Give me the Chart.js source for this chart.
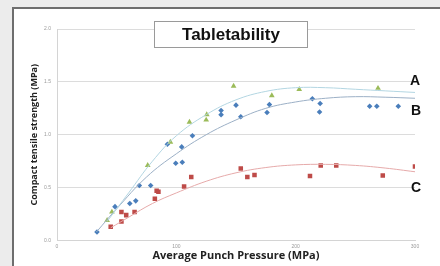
<!DOCTYPE html>
<html>
<head>
<meta charset="utf-8">
<script src="https://cdn.jsdelivr.net/npm/chart.js@4/dist/chart.umd.min.js"></script>
<style>
  html, body { margin: 0; padding: 0; background: #ebebeb; }
  #wrap { width: 440px; height: 266px; position: relative; }
</style>
</head>
<body>
<div id="wrap"><canvas id="chart" width="440" height="266"></canvas></div>
<script>
// ── Data ──
const pressureA = [42, 46, 76, 95, 111, 125, 125.5, 148, 180, 203, 269];
const strengthA = [0.19, 0.27, 0.71, 0.93, 1.12, 1.14, 1.19, 1.46, 1.37, 1.43, 1.44];

const pressureB = [33.5, 48.6, 61, 66, 69, 78.5, 92.5, 99.5, 104.5, 105, 113.5, 137.5, 137.5, 150, 154, 176, 178, 214, 220.5, 220, 262, 268, 286];
const strengthB = [0.08, 0.32, 0.35, 0.375, 0.52, 0.52, 0.91, 0.73, 0.885, 0.74, 0.99, 1.23, 1.19, 1.28, 1.17, 1.21, 1.285, 1.34, 1.295, 1.215, 1.27, 1.27, 1.27];

const pressureC = [45, 54, 54, 58, 65, 82, 83.5, 85, 106.5, 112.5, 154, 159.5, 165.5, 212, 221, 234, 273, 300];
const strengthC = [0.13, 0.18, 0.27, 0.24, 0.27, 0.395, 0.47, 0.46, 0.51, 0.60, 0.68, 0.60, 0.62, 0.61, 0.71, 0.71, 0.615, 0.70];

// trend lines (as drawn in the reference)
const trendAX = [42, 60, 80, 100, 125, 150, 175, 200, 225, 250, 275, 300];
const trendAY = [0.18, 0.45, 0.75, 0.99, 1.19, 1.33, 1.41, 1.445, 1.445, 1.43, 1.415, 1.40];
const trendBX = [33, 50, 75, 100, 125, 150, 175, 200, 225, 250, 275, 300];
const trendBY = [0.08, 0.30, 0.60, 0.82, 1.00, 1.14, 1.25, 1.31, 1.345, 1.36, 1.355, 1.345];
const trendCX = [45, 60, 80, 100, 125, 150, 175, 200, 225, 250, 275, 300];
const trendCY = [0.12, 0.22, 0.35, 0.45, 0.56, 0.64, 0.69, 0.715, 0.72, 0.71, 0.685, 0.65];

const yTicks = [0, 0.5, 1.0, 1.5, 2.0];
const xTicks = [0, 100, 200, 300];
const seriesLabels = ['A', 'B', 'C'];

const pts = (xs, ys) => xs.map((x, i) => ({ x, y: ys[i] }));

// ── Panel background, title box and series letters ──
const decor = {
    id: 'decor',
    beforeDraw(chart) {
        const c = chart.ctx;
        c.save();
        c.fillStyle = '#ececec';
        c.fillRect(0, 0, 440, 266);
        c.fillStyle = '#ffffff';
        c.fillRect(13, 8, 427, 258);
        c.fillStyle = '#6e6e6e';
        c.fillRect(12, 7, 428, 2);
        c.fillRect(12, 7, 2, 259);
        c.restore();
    },
    afterDatasetsDraw(chart) {
        const c = chart.ctx;
        c.save();
        // title box
        c.fillStyle = '#ffffff';
        c.fillRect(154, 21, 153, 26);
        c.strokeStyle = '#9a9a9a';
        c.lineWidth = 1;
        c.strokeRect(154.5, 21.5, 153, 26);
        c.fillStyle = '#111111';
        c.font = 'bold 17px "Liberation Sans", Arial, sans-serif';
        c.textAlign = 'center';
        c.textBaseline = 'middle';
        c.fillText('Tabletability', 231, 35);
        // A / B / C
        c.font = 'bold 14px "Liberation Sans", Arial, sans-serif';
        c.fillText(seriesLabels[0], 415, 81);
        c.fillText(seriesLabels[1], 416, 111);
        c.fillText(seriesLabels[2], 416, 188);
        c.restore();
    }
};

const tickFont = { size: 5, family: "'Liberation Sans', sans-serif" };

new Chart(document.getElementById('chart'), {
    type: 'scatter',
    data: {
        datasets: [
            {
                label: 'A trend', data: pts(trendAX, trendAY), showLine: true,
                borderColor: '#b3d6e2', borderWidth: 1, pointRadius: 0, tension: 0.4
            },
            {
                label: 'B trend', data: pts(trendBX, trendBY), showLine: true,
                borderColor: '#9cb0c6', borderWidth: 1, pointRadius: 0, tension: 0.4
            },
            {
                label: 'C trend', data: pts(trendCX, trendCY), showLine: true,
                borderColor: '#e6aaaa', borderWidth: 1, pointRadius: 0, tension: 0.4
            },
            {
                label: 'A', data: pts(pressureA, strengthA), pointStyle: 'triangle',
                pointRadius: 3.3, backgroundColor: '#9bbb59', borderColor: '#9bbb59', borderWidth: 0
            },
            {
                label: 'B', data: pts(pressureB, strengthB), pointStyle: 'rectRot',
                pointRadius: 2.8, backgroundColor: '#4a7ebb', borderColor: '#4a7ebb', borderWidth: 0
            },
            {
                label: 'C', data: pts(pressureC, strengthC), pointStyle: 'rect',
                pointRadius: 3.2, backgroundColor: '#be4b48', borderColor: '#be4b48', borderWidth: 0
            }
        ]
    },
    options: {
        responsive: false,
        animation: false,
        layout: { padding: { left: 14, right: 25, top: 29, bottom: 0 } },
        plugins: { legend: { display: false }, tooltip: { enabled: false } },
        scales: {
            x: {
                type: 'linear', min: 0, max: 300,
                afterBuildTicks: s => { s.ticks = xTicks.map(v => ({ value: v })); },
                afterFit: s => { s.height = 25.5; },
                grid: { display: false, drawTicks: false },
                border: { display: true, color: '#d4d4d4' },
                ticks: { font: tickFont, color: '#9a9a9a', padding: 3, maxRotation: 0, autoSkip: false },
                title: {
                    display: true, text: 'Average Punch Pressure (MPa)', color: '#222',
                    font: { size: 11, weight: 'bold', family: "'Open Sans', sans-serif" },
                    padding: { top: 0, bottom: 4 }
                }
            },
            y: {
                min: 0, max: 2,
                afterBuildTicks: s => { s.ticks = yTicks.map(v => ({ value: v })); },
                afterFit: s => { s.width = 43; },
                grid: { color: '#dcdcdc', drawTicks: false },
                border: { display: true, color: '#d4d4d4' },
                ticks: { font: tickFont, color: '#9a9a9a', padding: 6, autoSkip: false, callback: v => v.toFixed(1) },
                title: {
                    display: true, text: 'Compact tensile strength (MPa)', color: '#222',
                    font: { size: 9, weight: 'bold', family: "'Open Sans', sans-serif" },
                    padding: { top: 15, bottom: 0 }
                }
            }
        }
    },
    plugins: [decor]
});
</script>
</body>
</html>
